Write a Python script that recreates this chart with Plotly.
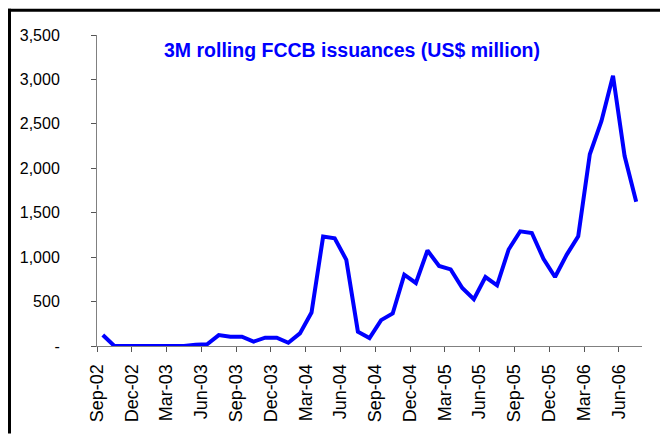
import plotly.graph_objects as go

# Monthly 3M rolling FCCB issuance, Sep-02 .. Jul-06 (US$ million)
months = [
    "Sep-02", "Oct-02", "Nov-02", "Dec-02", "Jan-03", "Feb-03", "Mar-03", "Apr-03",
    "May-03", "Jun-03", "Jul-03", "Aug-03", "Sep-03", "Oct-03", "Nov-03", "Dec-03",
    "Jan-04", "Feb-04", "Mar-04", "Apr-04", "May-04", "Jun-04", "Jul-04", "Aug-04",
    "Sep-04", "Oct-04", "Nov-04", "Dec-04", "Jan-05", "Feb-05", "Mar-05", "Apr-05",
    "May-05", "Jun-05", "Jul-05", "Aug-05", "Sep-05", "Oct-05", "Nov-05", "Dec-05",
    "Jan-06", "Feb-06", "Mar-06", "Apr-06", "May-06", "Jun-06", "Jul-06",
]
issuance = [
    123, 0, 0, 0, 0, 0, 0, 0,
    15, 20, 123, 105, 105, 49, 94, 94,
    37, 142, 377, 1231, 1213, 970, 161, 90,
    291, 366, 802, 709, 1075, 900, 862, 653,
    526, 776, 683, 1086, 1291, 1272, 982, 776,
    1026, 1235, 2157, 2530, 3041, 2138, 1623,
]

# quarterly tick labels
tick_labels = months[::3]
y_ticks = [0, 500, 1000, 1500, 2000, 2500, 3000, 3500]
y_tick_text = ["-" if v == 0 else f"{v:,}" for v in y_ticks]

n = len(months)
x_pos = [i + 0.5 for i in range(n)]          # points sit between month ticks
tick_pos = list(range(0, n, 3))

fig = go.Figure()
fig.add_trace(go.Scatter(
    x=x_pos, y=issuance, mode="lines",
    line=dict(color="#0000FF", width=4),
    hoverinfo="skip", showlegend=False,
))

L, R, T, B = 97, 18, 35, 86
W, H = 660, 434
pw, ph = W - L - R, H - T - B

def px_x(p):
    return (p - L) / pw

def px_y(p):
    return (H - B - p) / ph

fig.update_layout(
    width=W, height=H,
    margin=dict(l=L, r=R, t=T, b=B, pad=0),
    paper_bgcolor="white", plot_bgcolor="white",
    font=dict(family="Liberation Sans, Arial, sans-serif", color="black"),
    xaxis=dict(
        range=[0, n], tickmode="array", tickvals=tick_pos, ticktext=tick_labels,
        tickangle=-90, ticks="outside", ticklen=5, tickcolor="#555555",
        showline=True, linecolor="#808080", linewidth=1,
        showgrid=False, zeroline=False, tickfont=dict(size=18),
        ticklabelstandoff=5,
    ),
    yaxis=dict(
        range=[0, 3500], tickmode="array", tickvals=y_ticks, ticktext=y_tick_text,
        ticks="outside", ticklen=5, tickcolor="#555555",
        showline=True, linecolor="#808080", linewidth=1,
        showgrid=False, zeroline=False, tickfont=dict(size=16),
        ticklabelstandoff=28,
    ),
    annotations=[dict(
        text="<b>3M rolling FCCB issuances (US$ million)</b>",
        xref="paper", yref="paper", x=px_x(352), y=px_y(50),
        xanchor="center", yanchor="middle", showarrow=False,
        font=dict(size=19.5, color="#0000FF"),
    )],
    shapes=[
        # outer frame: top rule and left rule
        dict(type="line", xref="paper", yref="paper",
             x0=px_x(8), x1=px_x(662), y0=px_y(10), y1=px_y(10),
             line=dict(color="black", width=3)),
        dict(type="line", xref="paper", yref="paper",
             x0=px_x(9.5), x1=px_x(9.5), y0=px_y(8.5), y1=px_y(436),
             line=dict(color="black", width=3)),
    ],
)

fig.write_html("out.html")
